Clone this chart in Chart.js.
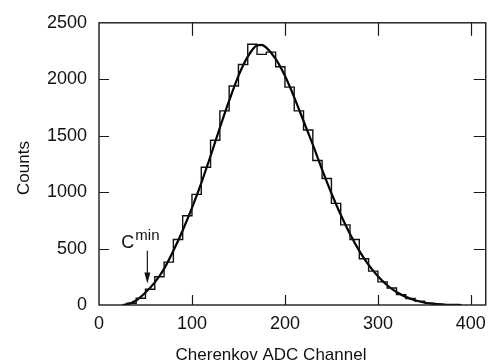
<!DOCTYPE html>
<html><head><meta charset="utf-8">
<script src="https://cdn.jsdelivr.net/npm/chart.js@4.4.0/dist/chart.umd.min.js"></script>
<style>html,body{margin:0;padding:0;background:#fff;}#wrap{width:494px;height:364px;}</style>
</head><body><div id="wrap"><canvas id="c" width="494" height="364"></canvas></div>
<script>
// Histogram: bin start channels and counts (bin width 10 channels)
const binStarts = [30,40,50,60,70,80,90,100,110,120,130,140,150,160,170,180,190,200,210,220,230,240,250,260,270,280,290,300,310,320,330,340,350,360,370];
const binCounts = [15,60,140,250,380,580,790,980,1220,1460,1720,1940,2130,2310,2220,2240,2110,1930,1720,1550,1280,1120,900,710,580,410,300,205,150,92,58,33,17,8,3];
const binWidth = 10;
// Fit curve
const fitChannels = [25,30,40,50,60,70,80,90,100,110,120,130,140,150,160,170,175,180,190,200,210,220,230,240,250,260,270,280,290,300,310,320,330,340,350,360,370,380,390];
const fitValues   = [0,5,40,110,200,320,480,660,860,1080,1320,1570,1810,2030,2200,2300,2305,2280,2180,2030,1840,1630,1420,1200,990,800,630,480,355,255,175,115,72,42,22,10,4,1,0];
const xTicks = [0,100,200,300,400];
const yTicks = [0,500,1000,1500,2000,2500];
const xTitle = 'Cherenkov ADC Channel';
const yTitle = 'Counts';
const cminChannel = 52;
const cminArrowFrom = 480, cminArrowTo = 190;

const FONT = '"Liberation Sans", Arial, Helvetica, sans-serif';

const histPoints = [{x: binStarts[0], y: 0}];
binStarts.forEach((s, i) => histPoints.push({x: s, y: binCounts[i]}));
histPoints.push({x: binStarts[binStarts.length - 1] + binWidth, y: binCounts[binCounts.length - 1]});
histPoints.push({x: binStarts[binStarts.length - 1] + binWidth, y: 0});
const fitPoints = fitChannels.map((c, i) => ({x: c, y: fitValues[i]}));

const framePlugin = {
  id: 'frame',
  afterDraw(chart) {
    const {ctx, chartArea: a, scales: {x, y}} = chart;
    ctx.save();
    ctx.strokeStyle = '#1a1a1a';
    ctx.lineWidth = 1.4;
    ctx.strokeRect(a.left, a.top, a.right - a.left, a.bottom - a.top);
    ctx.lineWidth = 1.2;
    ctx.beginPath();
    xTicks.forEach(v => {
      const px = Math.round(x.getPixelForValue(v)) + 0.5;
      if (v > x.min && v < x.max) {
        ctx.moveTo(px, a.bottom); ctx.lineTo(px, a.bottom - 10);
        ctx.moveTo(px, a.top); ctx.lineTo(px, a.top + 13);
      }
    });
    yTicks.forEach(v => {
      const py = Math.round(y.getPixelForValue(v)) + 0.5;
      if (v > y.min && v < y.max) {
        ctx.moveTo(a.left, py); ctx.lineTo(a.left + 10, py);
        ctx.moveTo(a.right, py); ctx.lineTo(a.right - 12, py);
      }
    });
    ctx.stroke();
    // C^min annotation with arrow
    const ax = x.getPixelForValue(cminChannel);
    const y0 = y.getPixelForValue(cminArrowFrom);
    const y1 = y.getPixelForValue(cminArrowTo);
    ctx.lineWidth = 1.2;
    ctx.beginPath();
    ctx.moveTo(ax, y0); ctx.lineTo(ax, y1 - 8);
    ctx.stroke();
    ctx.fillStyle = '#111';
    ctx.beginPath();
    ctx.moveTo(ax, y1); ctx.lineTo(ax - 3, y1 - 11); ctx.lineTo(ax + 3, y1 - 11); ctx.closePath();
    ctx.fill();
    ctx.font = '18px ' + FONT;
    ctx.textBaseline = 'alphabetic';
    ctx.textAlign = 'left';
    ctx.fillText('C', ax - 26, y0 - 3);
    ctx.font = '15px ' + FONT;
    ctx.fillText('min', ax - 12, y0 - 11);
    // axis titles
    ctx.font = '17px ' + FONT;
    ctx.textAlign = 'center';
    ctx.fillText(xTitle, 271, 360);
    ctx.translate(24, 168);
    ctx.rotate(-Math.PI / 2);
    ctx.textBaseline = 'middle';
    ctx.fillText(yTitle, 0, 0);
    ctx.restore();
  }
};

new Chart(document.getElementById('c'), {
  type: 'line',
  data: {
    datasets: [
      {data: histPoints, stepped: 'before', borderColor: '#111', borderWidth: 1.4, pointRadius: 0, fill: false},
      {data: fitPoints, borderColor: '#000', borderWidth: 2.2, pointRadius: 0, fill: false, cubicInterpolationMode: 'monotone'}
    ]
  },
  options: {
    responsive: false,
    devicePixelRatio: 1,
    animation: false,
    events: [],
    layout: {padding: {left: 0, right: 3, top: 18, bottom: 0}},
    plugins: {legend: {display: false}, tooltip: {enabled: false}},
    scales: {
      x: {
        type: 'linear', min: 0, max: 416,
        afterBuildTicks: s => { s.ticks = xTicks.map(v => ({value: v})); },
        afterFit: s => { s.height = 59; },
        grid: {display: false, drawTicks: false},
        border: {display: false},
        ticks: {font: {family: FONT, size: 18}, color: '#111', padding: 8, maxRotation: 0, callback: v => String(v)},
        title: {display: false}
      },
      y: {
        type: 'linear', min: 0, max: 2500,
        afterBuildTicks: s => { s.ticks = yTicks.map(v => ({value: v})); },
        afterFit: s => { s.width = 99; },
        grid: {display: false, drawTicks: false},
        border: {display: false},
        ticks: {font: {family: FONT, size: 18}, color: '#111', padding: 12, callback: v => String(v)},
        title: {display: false}
      }
    }
  },
  plugins: [framePlugin]
});
</script></body></html>
